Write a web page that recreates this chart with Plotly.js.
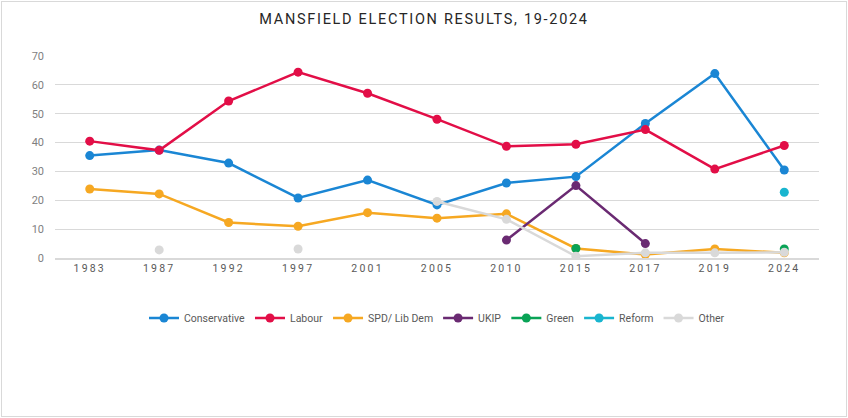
<!DOCTYPE html>
<html>
<head>
<meta charset="utf-8">
<script src="https://cdn.plot.ly/plotly-3.0.1.min.js"></script>
<style>
  body { margin: 0; background: #fff; }
  #wrap { position: relative; width: 848px; height: 418px; }
  #frame { position: absolute; left: 1px; top: 1px; width: 844px; height: 414px;
           border: 1px solid #d9d9d9; pointer-events: none; }
  .xtick text { letter-spacing: 2.2px; }
  .gtitle { letter-spacing: 1.7px; }
</style>
</head>
<body>
<div id="wrap">
  <div id="plot" style="width:848px;height:418px;"></div>
  <div id="frame"></div>
</div>
<script>
// Mansfield general election vote share (%)
const years = ['1983', '1987', '1992', '1997', '2001', '2005', '2010', '2015', '2017', '2019', '2024'];

const conservative = [35.5, 37.4, 32.9, 20.8, 27.0, 18.4, 26.0, 28.2, 46.6, 63.9, 30.5];
const labour       = [40.5, 37.3, 54.4, 64.4, 57.1, 48.1, 38.7, 39.4, 44.5, 30.8, 39.0];
const libDem       = [23.9, 22.2, 12.3, 11.0, 15.7, 13.8, 15.3, 3.3, 1.2, 3.1, 1.8];
const ukip         = [null, null, null, null, null, null, 6.2, 25.1, 5.0, null, null];
const green        = [null, null, null, null, null, null, null, 3.3, null, null, 3.1];
const reform       = [null, null, null, null, null, null, null, null, null, null, 22.8];
const other        = [null, 2.8, null, 3.1, null, 19.6, 13.4, 0.6, 1.8, 1.8, 2.0];

const series = [
  { name: 'Conservative', y: conservative, color: '#1a86d4' },
  { name: 'Labour', y: labour, color: '#e20e47' },
  { name: 'SPD/ Lib Dem', y: libDem, color: '#f6a822' },
  { name: 'UKIP', y: ukip, color: '#6a2a72' },
  { name: 'Green', y: green, color: '#09a356' },
  { name: 'Reform', y: reform, color: '#19b5cf' },
  { name: 'Other', y: other, color: '#d9d9d9' },
];

const data = series.map(s => ({
  type: 'scatter',
  mode: 'lines+markers',
  name: s.name,
  x: years,
  y: s.y,
  connectgaps: false,
  line: { color: s.color, width: 2.5 },
  marker: { color: s.color, size: 9 },
  hoverinfo: 'x+y+name',
}));

const layout = {
  width: 848,
  height: 418,
  margin: { l: 55, r: 29, t: 56, b: 160 },
  paper_bgcolor: '#fff',
  plot_bgcolor: '#fff',
  font: { family: 'Roboto, "Liberation Sans", sans-serif', color: '#595959', size: 11 },
  title: {
    text: 'MANSFIELD ELECTION RESULTS, 19-2024',
    font: { family: 'Roboto, "DejaVu Sans", sans-serif', size: 14.5, color: '#262626' },
    x: 0.5, xanchor: 'center', y: 0.955, yanchor: 'middle',
  },
  xaxis: {
    type: 'category',
    range: [-0.5, years.length - 0.5],
    automargin: false,
    showgrid: false,
    showline: true,
    linecolor: '#d9d9d9',
    linewidth: 1.5,
    ticks: '',
    tickfont: { size: 10.5, color: '#595959' },
    zeroline: false,
  },
  yaxis: {
    range: [0, 70],
    dtick: 10,
    automargin: false,
    showgrid: true,
    gridcolor: '#d9d9d9',
    gridwidth: 1.3,
    zeroline: false,
    showline: false,
    ticks: '',
    ticklabelstandoff: 10,
    tickfont: { size: 11, color: '#7f7f7f' },
  },
  showlegend: true,
  legend: {
    orientation: 'h',
    x: 0.5, xanchor: 'center',
    y: -0.297, yanchor: 'middle',
    font: { size: 10.5, color: '#595959' },
    itemwidth: 30,
    tracegroupgap: 0,
  },
};

Plotly.newPlot('plot', data, layout, { displayModeBar: false });
</script>
</body>
</html>
